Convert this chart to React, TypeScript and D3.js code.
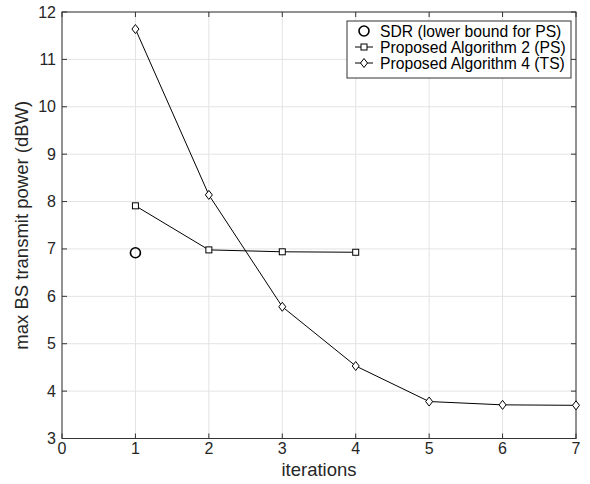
import React from "react";
import * as d3 from "d3";

const xTicks = [0, 1, 2, 3, 4, 5, 6, 7];
const yTicks = [3, 4, 5, 6, 7, 8, 9, 10, 11, 12];

const sdrX = [1];
const sdrY = [6.92];

const alg2X = [1, 2, 3, 4];
const alg2Y = [7.91, 6.98, 6.94, 6.93];

const alg4X = [1, 2, 3, 4, 5, 6, 7];
const alg4Y = [11.64, 8.14, 5.78, 4.53, 3.78, 3.71, 3.7];

const legendLabels = [
  "SDR (lower bound for PS)",
  "Proposed Algorithm 2 (PS)",
  "Proposed Algorithm 4 (TS)",
];

const W = 590;
const H = 484;
const L = 62;
const R = 576;
const T = 12;
const B = 438.5;

const FONT = "'Liberation Sans', Arial, Helvetica, sans-serif";

function Diamond({ cx, cy }: { cx: number; cy: number }) {
  const w = 3.5;
  const h = 4.5;
  return (
    <path
      d={`M${cx},${cy - h}L${cx + w},${cy}L${cx},${cy + h}L${cx - w},${cy}Z`}
      fill="white"
      stroke="black"
      strokeWidth={1}
    />
  );
}

function Square({ cx, cy }: { cx: number; cy: number }) {
  const s = 3;
  return (
    <rect x={cx - s} y={cy - s} width={2 * s} height={2 * s} fill="white" stroke="black" strokeWidth={1} />
  );
}

export default function App() {
  const x = d3.scaleLinear().domain([0, 7]).range([L, R]);
  const y = d3.scaleLinear().domain([3, 12]).range([B, T]);
  const line = d3
    .line<[number, number]>()
    .x((d) => x(d[0]))
    .y((d) => y(d[1]));

  const a2: [number, number][] = alg2X.map((v, i) => [v, alg2Y[i]]);
  const a4: [number, number][] = alg4X.map((v, i) => [v, alg4Y[i]]);

  const axisColor = "#333333";
  const gridColor = "#e3e3e3";
  const tickLen = 5;

  const lgX = 347;
  const lgY = 21;
  const lgW = 224;
  const lgH = 57;
  const rowY = [31, 47, 63];
  const symX = 364;
  const textX = 380;

  return (
    <svg width={W} height={H} style={{ position: "absolute", left: 0, top: 0 }} fontFamily={FONT}>
      <rect x={0} y={0} width={W} height={H} fill="white" />
      {/* grid */}
      {xTicks.map((t) => (
        <line key={"gx" + t} x1={x(t)} x2={x(t)} y1={T} y2={B} stroke={gridColor} strokeWidth={1} />
      ))}
      {yTicks.map((t) => (
        <line key={"gy" + t} x1={L} x2={R} y1={y(t)} y2={y(t)} stroke={gridColor} strokeWidth={1} />
      ))}
      {/* ticks */}
      {xTicks.map((t) => (
        <g key={"tx" + t}>
          <line x1={x(t)} x2={x(t)} y1={B} y2={B - tickLen} stroke={axisColor} />
          <line x1={x(t)} x2={x(t)} y1={T} y2={T + tickLen} stroke={axisColor} />
          <text x={x(t)} y={B + 15} textAnchor="middle" fontSize={16} fill="#262626">
            {t}
          </text>
        </g>
      ))}
      {yTicks.map((t) => (
        <g key={"ty" + t}>
          <line x1={L} x2={L + tickLen} y1={y(t)} y2={y(t)} stroke={axisColor} />
          <line x1={R} x2={R - tickLen} y1={y(t)} y2={y(t)} stroke={axisColor} />
          <text x={L - 6} y={y(t) + 5.5} textAnchor="end" fontSize={16} fill="#262626">
            {t}
          </text>
        </g>
      ))}
      {/* box */}
      <rect x={L} y={T} width={R - L} height={B - T} fill="none" stroke={axisColor} strokeWidth={1} />

      {/* series */}
      <path d={line(a2) || ""} fill="none" stroke="black" strokeWidth={1} />
      <path d={line(a4) || ""} fill="none" stroke="black" strokeWidth={1} />
      {a2.map((d, i) => (
        <Square key={"s" + i} cx={x(d[0])} cy={y(d[1])} />
      ))}
      {a4.map((d, i) => (
        <Diamond key={"d" + i} cx={x(d[0])} cy={y(d[1])} />
      ))}
      {sdrX.map((v, i) => (
        <circle key={"c" + i} cx={x(v)} cy={y(sdrY[i])} r={5} fill="none" stroke="black" strokeWidth={1.6} />
      ))}

      {/* axis labels */}
      <text x={(L + R) / 2} y={476} textAnchor="middle" fontSize={18.5} fill="#262626">
        iterations
      </text>
      <text
        transform={`translate(${28},${(T + B) / 2}) rotate(-90)`}
        textAnchor="middle"
        fontSize={18.5}
        fill="#262626"
      >
        max BS transmit power (dBW)
      </text>

      {/* legend */}
      <rect x={lgX} y={lgY} width={lgW} height={lgH} fill="white" stroke={axisColor} strokeWidth={1} />
      <circle cx={symX} cy={rowY[0]} r={5} fill="none" stroke="black" strokeWidth={1.6} />
      <line x1={355} x2={373} y1={rowY[1]} y2={rowY[1]} stroke="black" />
      <Square cx={symX} cy={rowY[1]} />
      <line x1={355} x2={373} y1={rowY[2]} y2={rowY[2]} stroke="black" />
      <Diamond cx={symX} cy={rowY[2]} />
      {legendLabels.map((lab, i) => (
        <text key={lab} x={textX} y={rowY[i] + 5.5} fontSize={15.7} fill="black">
          {lab}
        </text>
      ))}
    </svg>
  );
}
